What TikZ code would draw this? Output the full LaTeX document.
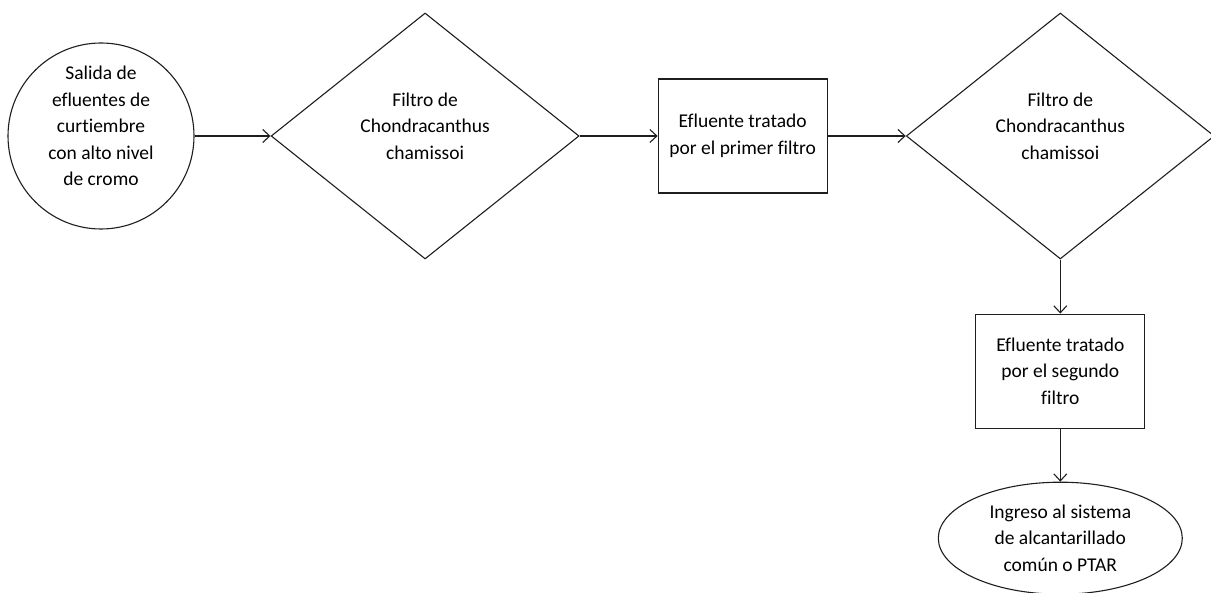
\documentclass[tikz,border=0pt]{standalone}
\usepackage{fontspec}
\setmainfont{Carlito}[Ligatures=NoCommon]
\usetikzlibrary{shapes.geometric, arrows.meta, positioning}
\definecolor{trazo}{RGB}{30,30,30}
\tikzset{
  base/.style={draw=trazo, line width=1.1pt, align=center,
    font=\fontsize{19.5}{26.5}\selectfont, inner sep=0pt},
  inicio/.style={base, circle, minimum size=186pt, text depth=20pt},
  filtro/.style={base, diamond, minimum width=308pt, minimum height=246pt, text depth=20pt},
  proceso/.style={base, rectangle, minimum width=169pt, minimum height=114pt},
  fin/.style={base, ellipse, minimum width=244pt, minimum height=112pt},
  flecha/.style={-{Straight Barb[length=7pt,width=13pt]}, line width=1.1pt, draw=trazo},
}
\begin{document}
\begin{tikzpicture}
  \useasboundingbox (0,0) rectangle (1211pt,-593pt);
  \node[inicio] (salida) at (101pt,-136pt)
    {Salida de\\efluentes de\\curtiembre\\con alto nivel\\de cromo};
  \node[filtro, right=76pt of salida] (filtro1) {Filtro de\\Chondracanthus\\chamissoi};
  \node[proceso, right=78pt of filtro1] (trat1) {Efluente tratado\\por el primer filtro};
  \node[filtro, right=78pt of trat1] (filtro2) {Filtro de\\Chondracanthus\\chamissoi};
  \node[proceso, below=54pt of filtro2] (trat2) {Efluente tratado\\por el segundo\\filtro};
  \node[fin, below=53pt of trat2] (ingreso)
    {Ingreso al sistema\\de alcantarillado\\común o PTAR};

  % flujo principal
  \foreach \f/\t in {salida/filtro1,filtro1/trat1,trat1/filtro2,filtro2/trat2,trat2/ingreso}
    \draw[flecha] (\f)--(\t);
\end{tikzpicture}
\end{document}
